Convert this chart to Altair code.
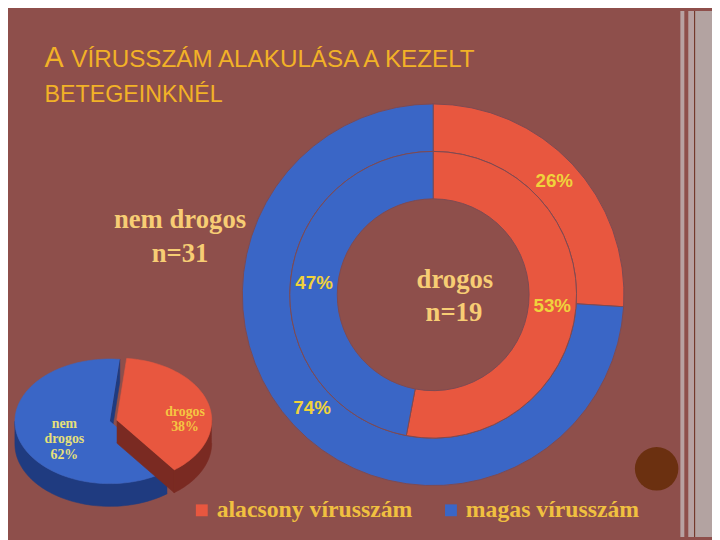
import altair as alt
import pandas as pd
import numpy as np

# ---------------- data ----------------
title_big = "A"
title_rest = "VÍRUSSZÁM ALAKULÁSA A KEZELT"
title_line2 = "BETEGEINKNÉL"

categories = ["alacsony vírusszám", "magas vírusszám"]
cat_colors = ["#e8573f", "#3a66c6"]

outer_pct = [26, 74]          # nem drogos, n=31 (outer ring)
inner_pct = [53, 47]          # drogos, n=19 (inner ring)
outer_text = ["nem drogos", "n=31"]
inner_text = ["drogos", "n=19"]

pie_groups = ["drogos", "nem drogos"]
pie_pct = [38, 62]
pie_top_colors = ["#e8573f", "#3a66c6"]
pie_side_colors = ["#7a2a22", "#1f3b80"]

# ---------------- layout ----------------
W, H = 712, 532
BG = "#8e4f4b"

# donut table
donut_rows = []
for ring, vals in (("outer", outer_pct), ("inner", inner_pct)):
    for i, (c, v) in enumerate(zip(categories, vals)):
        donut_rows.append({"ring": ring, "cat": c, "val": v, "ord": i, "lab": f"{v}%"})
donut = pd.DataFrame(donut_rows)

color_scale = alt.Scale(domain=categories, range=cat_colors)
DCX, DCY = 430, 287


def ring_layer(ring, r_out, r_in, legend=None):
    return alt.Chart(donut).transform_filter(alt.datum.ring == ring).mark_arc(
        radius=r_out, radius2=r_in, stroke="#7d4a52", strokeWidth=1
    ).encode(
        theta=alt.Theta("val:Q", stack=True),
        color=alt.Color("cat:N", scale=color_scale, legend=legend),
        order=alt.Order("ord:Q"),
        x=alt.value(DCX), y=alt.value(DCY),
    )


def ring_labels(ring, r):
    return alt.Chart(donut).transform_filter(alt.datum.ring == ring).mark_text(
        radius=r, font="Liberation Sans", fontWeight="bold", fontSize=19,
        color="#f0d23c", align="center", baseline="middle"
    ).encode(
        theta=alt.Theta("val:Q", stack=True),
        order=alt.Order("ord:Q"),
        text="lab:N",
        x=alt.value(DCX), y=alt.value(DCY),
    )


legend = alt.Legend(
    orient="none", legendX=184, legendY=493, direction="horizontal", title=None,
    padding=0, symbolType="square", symbolSize=144, symbolStrokeWidth=0,
    labelFont="Liberation Serif", labelFontWeight="bold", labelFontSize=24,
    labelColor="#f0c040", labelOffset=3, columnPadding=27, labelLimit=400,
)


def text_layer(txt, x, y, size, color, font="Liberation Serif", weight="bold", align="center"):
    return alt.Chart(pd.DataFrame({"t": [txt]})).mark_text(
        font=font, fontSize=size, fontWeight=weight, color=color,
        align=align, baseline="alphabetic"
    ).encode(text="t:N", x=alt.value(x), y=alt.value(y))


# ---------------- 3D pie geometry (angles from the percentages) ----------------
PCX, PCY, PRX, PRY, DEPTH = 103, 415, 96, 63, 23
start = 6.0
red_end = start + pie_pct[0] * 3.6
blue_end = red_end + pie_pct[1] * 3.6


def arc_pts(a0, a1, z):
    n = max(2, int(abs(a1 - a0) / 2) + 1)
    return [(a, z) for a in np.linspace(a0, a1, n)]


polys = [
    ("blue_end", [(None, 0), (blue_end, 0), (blue_end, 1), (None, 1)], 1),
    ("blue_wall", arc_pts(red_end, 270, 0) + arc_pts(270, red_end, 1), 1),
    ("blue_top", [(None, 0)] + arc_pts(red_end, blue_end, 0), 1),
    ("red_wall", arc_pts(90, red_end, 0) + arc_pts(red_end, 90, 1), 0),
    ("red_cut", [(None, 0), (red_end, 0), (red_end, 1), (None, 1)], 0),
    ("red_top", [(None, 0)] + arc_pts(start, red_end, 0), 0),
]
shift = {0: (7, -1), 1: (0, 0)}
prow = []
for name, pts, g in polys:
    for k, (a, z) in enumerate(pts):
        prow.append({"poly": name, "idx": k, "ang": 0.0 if a is None else float(a),
                     "ctr": 1 if a is None else 0, "z": z,
                     "sx": shift[g][0], "sy": shift[g][1]})
pie_df = pd.DataFrame(prow)

xs = alt.Scale(domain=[0, W], nice=False, zero=False)
ys = alt.Scale(domain=[H, 0], nice=False, zero=False)


def poly_layer(name, color):
    return alt.Chart(pie_df).transform_filter(alt.datum.poly == name).transform_calculate(
        px=f"{PCX} + datum.sx + (1 - datum.ctr) * {PRX} * sin(datum.ang * PI / 180)",
        py=f"{PCY} + datum.sy - (1 - datum.ctr) * {PRY} * cos(datum.ang * PI / 180) + datum.z * {DEPTH}",
    ).mark_line(fill=color, stroke=color, strokeWidth=0.6, interpolate="linear").encode(
        x=alt.X("px:Q", scale=xs, axis=None),
        y=alt.Y("py:Q", scale=ys, axis=None),
        order=alt.Order("idx:Q"),
    )


pie_layers = [
    poly_layer("blue_end", pie_side_colors[1]),
    poly_layer("blue_wall", pie_side_colors[1]),
    poly_layer("blue_top", pie_top_colors[1]),
    poly_layer("red_wall", pie_side_colors[0]),
    poly_layer("red_cut", pie_side_colors[0]),
    poly_layer("red_top", pie_top_colors[0]),
]

nem_word, drog_word = pie_groups[1].split(" ")

# ---------------- decorations ----------------
one = pd.DataFrame({"k": [0]})


def strip(x0, x1, color):
    return alt.Chart(one).mark_rect(color=color).encode(
        x=alt.value(x0), x2=alt.value(x1), y=alt.value(0), y2=alt.value(H))


strips = [
    strip(680, 684, "#b8a2a2"),
    strip(688, 694, "#b8a2a2"),
    strip(694, 695, "#6b3020"),
    strip(695, 712, "#b3a3a1"),
]
dot = alt.Chart(one).mark_circle(size=1936, color="#6b3010", opacity=1).encode(
    x=alt.value(656), y=alt.value(463))

TC = "#f2b227"
layers = (
    strips
    + [
        text_layer(title_big, 37, 57, 29, TC, font="Liberation Sans", weight="normal", align="left"),
        text_layer(title_rest, 64, 57, 24.5, TC, font="Liberation Sans", weight="normal", align="left"),
        text_layer(title_line2, 37, 92, 23.5, TC, font="Liberation Sans", weight="normal", align="left"),
        text_layer(outer_text[0], 174, 219, 27, "#f7cd74"),
        text_layer(outer_text[1], 174, 254, 27, "#f7cd74"),
        ring_layer("outer", 193, 145, legend=legend),
        ring_layer("inner", 145, 97),
        ring_labels("outer", 168),
        ring_labels("inner", 121),
        text_layer(inner_text[0], 452, 280, 27, "#f7cd74"),
        text_layer(inner_text[1], 451, 314, 27, "#f7cd74"),
    ]
    + pie_layers
    + [
        text_layer(nem_word, 57, 422, 14, "#e6e07a"),
        text_layer(drog_word, 57, 437, 14, "#e6e07a"),
        text_layer(f"{pie_pct[1]}%", 57, 453, 14, "#e6e07a"),
        text_layer(pie_groups[0], 179, 410, 14, "#f5c542"),
        text_layer(f"{pie_pct[0]}%", 179, 425, 14, "#f5c542"),
        dot,
    ]
)

chart = alt.layer(*layers).resolve_scale(theta="independent").properties(
    width=W, height=H, padding=0, autosize="none", background=BG
).configure_view(stroke=None)

chart.save("out.html", embed_options={"renderer": "svg", "actions": False})
